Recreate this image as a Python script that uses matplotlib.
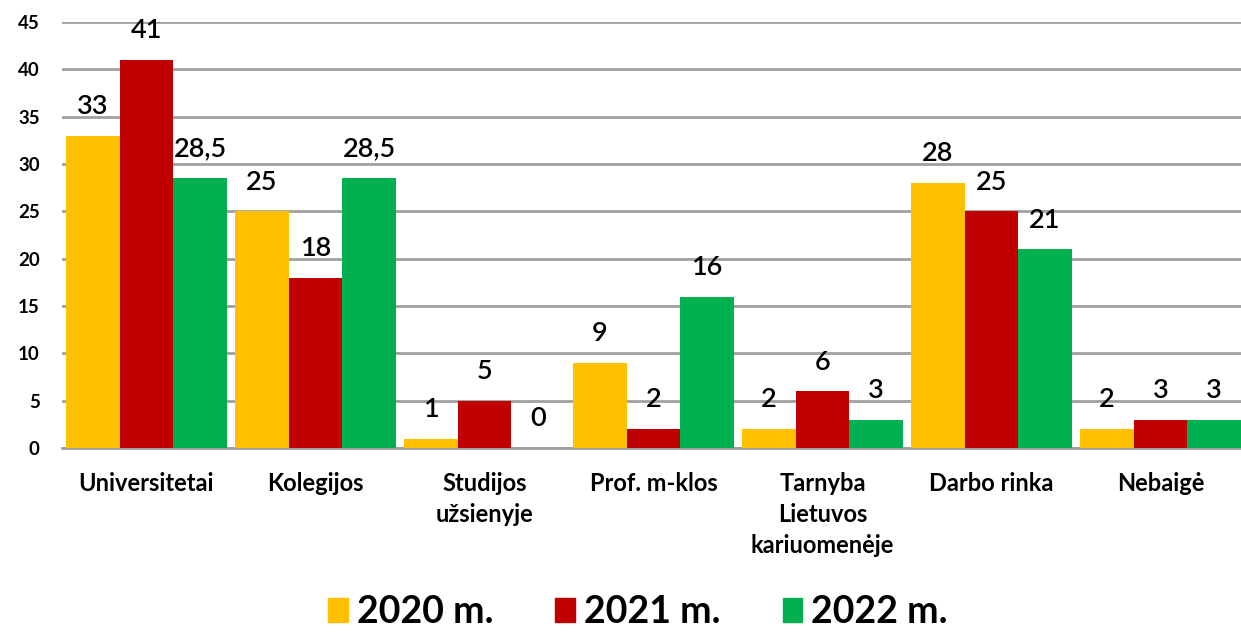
import numpy as np
import matplotlib
matplotlib.use("Agg")
import matplotlib.pyplot as plt
from matplotlib.patches import Patch

plt.rcParams['font.family'] = ['Lato', 'DejaVu Sans']

categories = ["Universitetai", "Kolegijos", "Studijos\nužsienyje", "Prof. m-klos",
              "Tarnyba\nLietuvos\nkariuomenėje", "Darbo rinka", "Nebaigė"]
years = ["2020 m.", "2021 m.", "2022 m."]
v2020 = [33, 25, 1, 9, 2, 28, 2]
v2021 = [41, 18, 5, 2, 6, 25, 3]
v2022 = [28.5, 28.5, 0, 16, 3, 21, 3]
colors = ["#FFC000", "#C00000", "#00B050"]

fig = plt.figure(figsize=(12.41, 6.32), dpi=100)
ax = fig.add_axes([62/1241, 184/632, 1183/1241, 426/632])

x = np.arange(len(categories))
w = 0.3166
for i, vals in enumerate([v2020, v2021, v2022]):
    bars = ax.bar(x + (i-1)*w, vals, width=w, color=colors[i], zorder=3)
    for b, v in zip(bars, vals):
        lab = str(v).replace(".", ",")
        ax.annotate(lab, (b.get_x() + b.get_width()/2, v), xytext=(0, 21),
                    textcoords="offset points", ha="center", va="center",
                    fontsize=19.5, fontweight="semibold", zorder=4)

ax.set_xlim(-0.5, 6.5)
ax.set_ylim(0, 45)
ax.set_yticks(range(0, 46, 5))
ax.yaxis.grid(True, color="#A0A0A0", linewidth=2, zorder=0)
ax.set_axisbelow(True)
for s in ["left", "right", "top"]:
    ax.spines[s].set_visible(False)
ax.spines["bottom"].set_color("#A0A0A0")
ax.spines["bottom"].set_linewidth(2)
ax.set_xticks(x)
ax.set_xticklabels(categories, fontsize=17, fontweight="bold", linespacing=1.42, va="top")
ax.tick_params(axis="x", length=0, pad=17)
ax.tick_params(axis="y", length=0, pad=16, labelsize=13.5)
for t in ax.get_yticklabels():
    t.set_fontweight("bold")

handles = [Patch(color=c) for c in colors]
fig.legend(handles, years, loc="center", bbox_to_anchor=(638/1241, 1 - 612/632), ncol=3,
           frameon=False, prop={"size": 27, "weight": "bold"},
           handlelength=0.52, handleheight=0.6, handletextpad=0.25, columnspacing=1.65)

fig.savefig("out.png", dpi=100)
